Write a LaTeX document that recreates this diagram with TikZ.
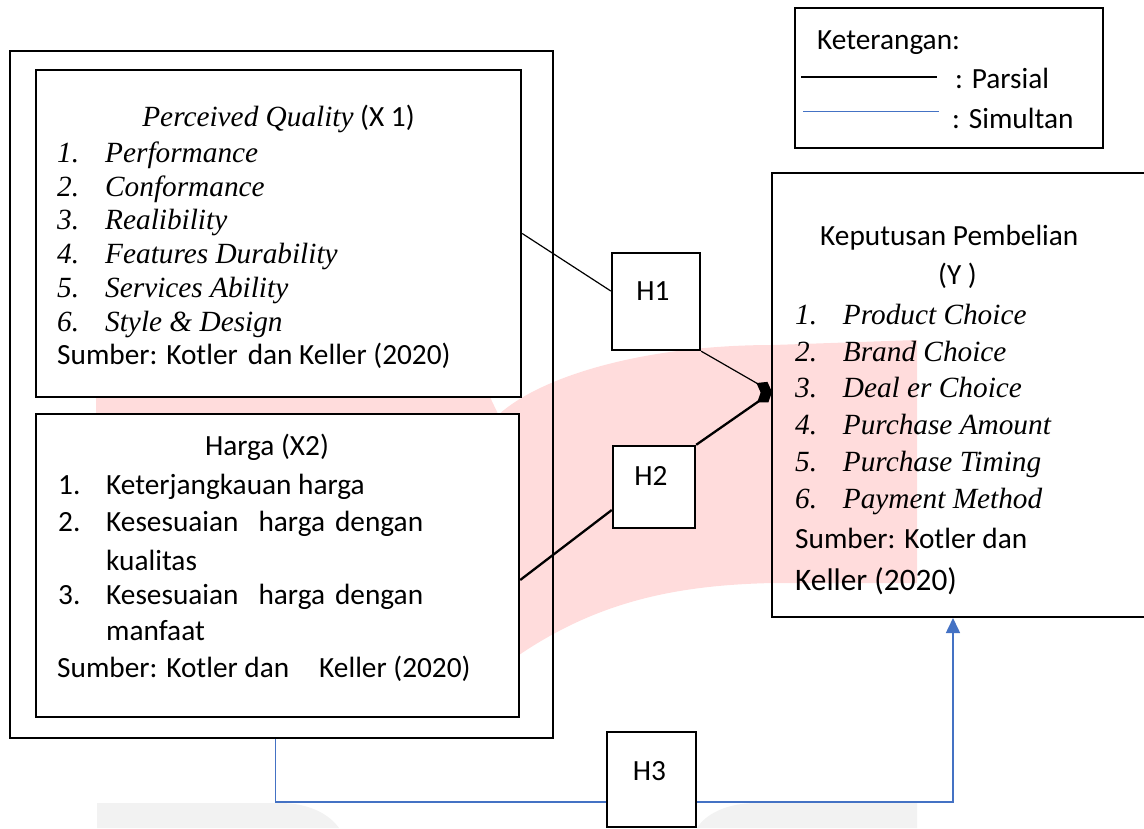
\documentclass[tikz,border=0pt]{standalone}
\usepackage{fontspec}
\setmainfont{Carlito}
\newfontfamily\tms{Liberation Serif}
\usetikzlibrary{calc,arrows.meta}
\definecolor{wm}{RGB}{255,220,220}
\definecolor{wg}{RGB}{242,242,242}
\definecolor{sblue}{RGB}{68,114,196}
\begin{document}
\begin{tikzpicture}[x=1pt,y=-1pt,
  box/.style={draw=black, line width=2.4pt, inner sep=0pt},
  wbox/.style={box, fill=white},
  txt/.style={inner sep=0pt, font=\fontsize{29.3}{33}\selectfont},
  itx/.style={inner sep=0pt, font=\fontsize{29.3}{33}\selectfont\tms\itshape},
  bw/.style={anchor=base west},
  bc/.style={anchor=base},
  parsial/.style={draw=black, line width=1.2pt},
  parsialb/.style={draw=black, line width=2.3pt},
  simultan/.style={draw=sblue, line width=1.6pt},
  dtip/.style={-{Diamond[length=18pt,width=13pt]}}
]
\clip (0,0) rectangle (1144,828);
% watermark
\fill[wm] (96,395) -- (489,395) -- (499,416) -- (96,416) -- cycle;
\fill[wm] (495,418) .. controls (535,378) and (640,345) .. (773,345) -- (917,340)
  -- (917,583) -- (773,583) .. controls (680,585) and (600,600) .. (519,655)
  -- (470,700) -- (470,430) -- cycle;
\fill[wg] (97,828) -- (97,803) -- (280,803) .. controls (310,803) and (330,815) .. (339,828) -- cycle;
\fill[wg] (697,828) .. controls (705,815) and (725,803) .. (757,803) -- (917,803) -- (917,828) -- cycle;

% boxes
\node[box, minimum width=543pt, minimum height=687pt] (outer) at (281.5,394.5) {};
\node[wbox, minimum width=485pt, minimum height=327pt] (x1) at (278.5,233.5) {};
\node[wbox, minimum width=483pt, minimum height=303pt] (x2) at (277.5,565.5) {};
\node[box, line width=2pt, minimum width=378pt, minimum height=444pt] (ybox) at (961,395) {};
\node[draw=black, line width=1.5pt, fill=white, inner sep=0pt, minimum width=308pt, minimum height=140pt] (leg) at (949,78) {};

% X1 text
\node[txt,bc] (x1t) at (278.5,126) {{\tms\itshape Perceived Quality} (X 1)};
\node[itx,bw] (x1n1) at (57,162.5) {1.};
\node[itx,bw] (x1i1) at (105,162.5) {Performance};
\node[itx,bw] (x1n2) at (57,196.2) {2.};
\node[itx,bw] (x1i2) at (105,196.2) {Conformance};
\node[itx,bw] (x1n3) at (57,229.9) {3.};
\node[itx,bw] (x1i3) at (105,229.9) {Realibility};
\node[itx,bw] (x1n4) at (57,263.6) {4.};
\node[itx,bw] (x1i4) at (105,263.6) {Features Durability};
\node[itx,bw] (x1n5) at (57,297.3) {5.};
\node[itx,bw] (x1i5) at (105,297.3) {Services Ability};
\node[itx,bw] (x1n6) at (57,331) {6.};
\node[itx,bw] (x1i6) at (105,331) {Style \& Design};
\node[txt,bw] (x1s) at (57,364.7) {Sumber: Kotler\hspace{10pt}dan Keller (2020)};

% X2 text
\node[txt,bc] (x2t) at (267,455) {Harga (X2)};
\node[txt,bw] (x2n1) at (58,494) {1.};
\node[txt,bw] (x2i1) at (106,494) {Keterjangkauan harga};
\node[txt,bw] (x2n2) at (58,531.7) {2.};
\node[txt,bw] (x2i2) at (106,531.7) {Kesesuaian\hspace{20pt}harga\hspace{10pt}dengan};
\node[txt,bw] (x2i2b) at (106,570) {kualitas};
\node[txt,bw] (x2n3) at (58,604) {3.};
\node[txt,bw] (x2i3) at (106,604) {Kesesuaian\hspace{20pt}harga\hspace{10pt}dengan};
\node[txt,bw] (x2i3b) at (106,640) {manfaat};
\node[txt,bw] (x2s) at (57,677.7) {Sumber: Kotler dan\hspace{30pt}Keller (2020)};

% Y text
\node[txt,bw] (yt) at (820,245) {Keputusan Pembelian};
\node[txt,bw] (yt2) at (938,284) {(Y )};
\node[itx,bw] (yn1) at (795,324) {1.};
\node[itx,bw] (yi1) at (842.7,324) {Product Choice};
\node[itx,bw] (yn2) at (795,361.7) {2.};
\node[itx,bw] (yi2) at (842.7,361.7) {Brand Choice};
\node[itx,bw] (yn3) at (795,397.7) {3.};
\node[itx,bw] (yi3) at (842.7,397.7) {Deal er Choice};
\node[itx,bw] (yn4) at (795,434) {4.};
\node[itx,bw] (yi4) at (842.7,434) {Purchase Amount};
\node[itx,bw] (yn5) at (795,471.7) {5.};
\node[itx,bw] (yi5) at (842.7,471.7) {Purchase Timing};
\node[itx,bw] (yn6) at (795,508) {6.};
\node[itx,bw] (yi6) at (842.7,508) {Payment Method};
\node[txt,bw] (ys1) at (795,548) {Sumber: Kotler dan};
\node[txt,bw,font=\fontsize{31.3}{35}\selectfont] (ys2) at (795,590) {Keller (2020)};

% legend
\node[txt,bw] (legt) at (817,49) {Keterangan:};
\node[txt,bw] (legp) at (955,88) {: Parsial};
\node[txt,bw] (legs) at (952,128) {: Simultan};
\coordinate (lp1) at (801,77);
\coordinate (lp2) at (937,77);
\coordinate (ls1) at (803,111.5);
\coordinate (ls2) at (939,111.5);
\draw[draw=black, line width=1.1pt] (lp1) -- (lp2);
\draw[draw=sblue, line width=1.4pt] (ls1) -- (ls2);

% hypothesis boxes
\node[wbox, minimum width=88pt, minimum height=97pt] (h1) at (656,301.5) {};
\node[wbox, minimum width=82pt, minimum height=82pt] (h2) at (654,487) {};
\node[wbox, minimum width=89pt, minimum height=95pt] (h3) at (651.5,779.5) {};
\node[txt,bc] (h1t) at (653,300.7) {H1};
\node[txt,bc] (h2t) at (651,485) {H2};
\node[txt,bc] (h3t) at (649.5,780) {H3};

% connectors
\coordinate (jn) at (772,392);
\draw[parsial] (x1.east) -- ($(h1.west)+(0,-10.5)$);
\draw[parsial,dtip] (h1.south east) -- (jn);
\draw[parsialb] ($(x2.east)+(0,14.5)$) -- ($(h2.west)+(0,23)$);
\draw[parsialb,dtip] (h2.north east) -- (jn);
\draw[simultan] ($(outer.south west)+(266.5,0)$) |- ($(h3.west)+(0,22.5)$);
\draw[simultan,-{Triangle[length=15pt,width=14pt]}] ($(h3.east)+(0,22.5)$) -| ($(ybox.south west)+(182,0)$);
\end{tikzpicture}
\end{document}
